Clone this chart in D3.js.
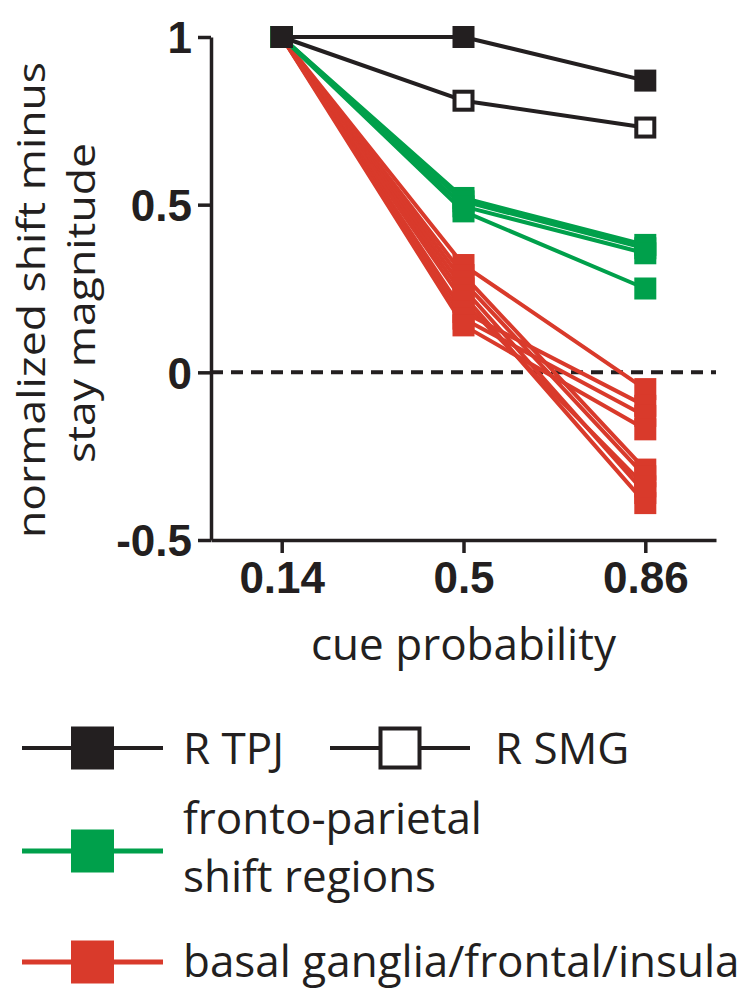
<!DOCTYPE html>
<html>
<head>
<meta charset="utf-8">
<script src="https://cdn.jsdelivr.net/npm/d3@7"></script>
<style>
  html, body { margin: 0; padding: 0; background: #fff; }
  svg { display: block; }
</style>
</head>
<body>
<svg id="chart" width="750" height="989"></svg>
<script>
// ---- data ----
const cueProb = [0.14, 0.5, 0.86];
const xTickLabels = ["0.14", "0.5", "0.86"];
const yTicks = [-0.5, 0, 0.5, 1];
const yTickLabels = ["-0.5", "0", "0.5", "1"];

const rTPJ = [1, 1, 0.87];
const rSMG = [1, 0.81, 0.73];

const frontoParietal = [
  [1, 0.52, 0.38],
  [1, 0.51, 0.37],
  [1, 0.495, 0.355],
  [1, 0.48, 0.25]
];

const basalGanglia = [
  [1, 0.32, -0.05],
  [1, 0.29, -0.29],
  [1, 0.27, -0.31],
  [1, 0.25, -0.36],
  [1, 0.23, -0.39],
  [1, 0.21, -0.34],
  [1, 0.18, -0.10],
  [1, 0.16, -0.13],
  [1, 0.14, -0.17]
];

const legendLabels = ["R TPJ", "R SMG", ["fronto-parietal", "shift regions"], "basal ganglia/frontal/insula"];
const yTitle = ["normalized shift minus", "stay magnitude"];
const xTitle = "cue probability";

// ---- styles ----
const BLACK = "#231f20", GREEN = "#00a04b", RED = "#d93a2b";
const textFont = "'Open Sans', 'Noto Sans', sans-serif";
const tickFont = "'Liberation Sans', Arial, sans-serif";

const svg = d3.select("#chart");
svg.append("rect").attr("width", 750).attr("height", 989).attr("fill", "#fff");

const x = d3.scaleLinear().domain([0, 1]).range([211, 716]);
const y = d3.scaleLinear().domain([-0.5, 1]).range([540, 37]);

// axes
const xAxis = svg.append("g").attr("transform", `translate(0,${y(-0.5)})`)
  .call(d3.axisBottom(x).tickValues(cueProb).tickFormat((d, i) => xTickLabels[i])
    .tickSize(13).tickSizeOuter(0).tickPadding(9));
const yAxis = svg.append("g").attr("transform", `translate(${x(0)},0)`)
  .call(d3.axisLeft(y).tickValues(yTicks).tickFormat((d, i) => yTickLabels[i])
    .tickSize(13).tickSizeOuter(0).tickPadding(6));

[xAxis, yAxis].forEach(g => {
  g.select(".domain").attr("stroke", BLACK).attr("stroke-width", 3.5);
  g.selectAll(".tick line").attr("stroke", BLACK).attr("stroke-width", 3.5);
  g.selectAll(".tick text").attr("fill", BLACK)
    .style("font-family", tickFont).style("font-weight", "bold").style("font-size", "44px");
});
yAxis.selectAll(".tick text").attr("dy", "0.36em");

// zero dashed line
svg.append("line")
  .attr("x1", x(0)).attr("x2", x(1)).attr("y1", y(0)).attr("y2", y(0))
  .attr("stroke", BLACK).attr("stroke-width", 4).attr("stroke-dasharray", "12,8");

const line = d3.line().x((d, i) => x(cueProb[i])).y(d => y(d));
const MS = 22;

function drawSeries(series, color) {
  const g = svg.append("g");
  series.forEach(s => {
    g.append("path").attr("d", line(s)).attr("fill", "none")
      .attr("stroke", color).attr("stroke-width", 4).attr("stroke-linejoin", "round");
  });
}
function drawMarkers(series, color, filled) {
  const g = svg.append("g");
  series.forEach(s => {
    s.forEach((v, i) => {
      if (!filled) {
        g.append("rect")
          .attr("x", x(cueProb[i]) - MS / 2 + 2).attr("y", y(v) - MS / 2 + 2)
          .attr("width", MS - 4).attr("height", MS - 4)
          .attr("fill", "#fff").attr("stroke", color).attr("stroke-width", 4);
      } else {
        g.append("rect")
          .attr("x", x(cueProb[i]) - MS / 2).attr("y", y(v) - MS / 2)
          .attr("width", MS).attr("height", MS).attr("fill", color);
      }
    });
  });
}

drawSeries(basalGanglia, RED);
drawSeries(frontoParietal, GREEN);
drawMarkers(basalGanglia, RED, true);
drawMarkers(frontoParietal, GREEN, true);
drawSeries([rSMG], BLACK);
drawSeries([rTPJ], BLACK);
drawMarkers([rSMG], BLACK, false);
drawMarkers([rTPJ], BLACK, true);

// axis titles
function yTitleText(bx, cy, str, len) {
  svg.append("text").attr("transform", `translate(${bx},${cy}) rotate(-90)`)
    .attr("text-anchor", "middle").attr("fill", BLACK)
    .attr("textLength", len).attr("lengthAdjust", "spacingAndGlyphs")
    .style("font-family", textFont).style("font-size", "39px").text(str);
}
yTitleText(45, 300, yTitle[0], 476);
yTitleText(95, 303, yTitle[1], 320);
svg.append("text").attr("x", x(0.5)).attr("y", 660)
  .attr("text-anchor", "middle").attr("fill", BLACK)
  .style("font-family", textFont).style("font-size", "44px").text(xTitle);

// legend
const LS = 43;
function legendItem(x1, x2, ly, color, filled, strokeW) {
  svg.append("line").attr("x1", x1).attr("x2", x2).attr("y1", ly).attr("y2", ly)
    .attr("stroke", color).attr("stroke-width", strokeW);
  const cx = (x1 + x2) / 2;
  if (filled) {
    svg.append("rect").attr("x", cx - LS / 2).attr("y", ly - LS / 2)
      .attr("width", LS).attr("height", LS).attr("fill", color);
  } else {
    svg.append("rect").attr("x", cx - LS / 2 + 2).attr("y", ly - LS / 2 + 2)
      .attr("width", LS - 4).attr("height", LS - 4)
      .attr("fill", "#fff").attr("stroke", color).attr("stroke-width", 4);
  }
}
function legendText(tx, ty, str) {
  svg.append("text").attr("x", tx).attr("y", ty).attr("fill", BLACK)
    .style("font-family", textFont).style("font-size", "44px").text(str);
}
legendItem(22, 163, 748, BLACK, true, 4);
legendText(183, 764, legendLabels[0]);
legendItem(330, 470, 748, BLACK, false, 4);
legendText(495, 764, legendLabels[1]);
legendItem(22, 163, 851, GREEN, true, 5);
legendText(183, 834, legendLabels[2][0]);
legendText(183, 892, legendLabels[2][1]);
legendItem(22, 163, 962, RED, true, 5);
legendText(183, 977, legendLabels[3]);
</script>
</body>
</html>
